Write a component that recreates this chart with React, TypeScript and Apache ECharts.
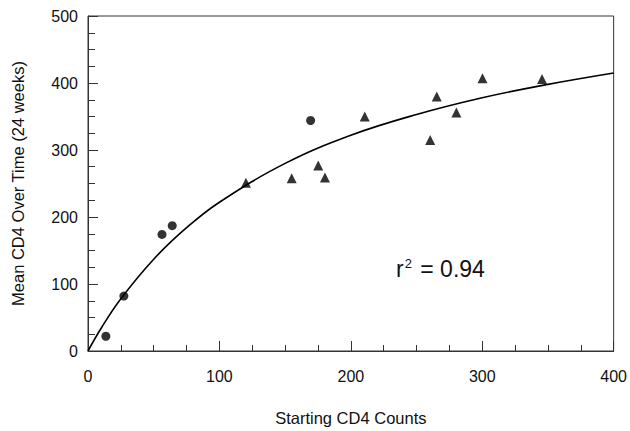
import React, { useEffect, useRef } from "react";
import * as echarts from "echarts";

// Circles (observed points)
const circleX = [13.6, 27.3, 56.3, 64.1, 169.4];
const circleY = [22, 82, 174, 187, 344];

// Triangles
const triX = [120.2, 155, 175.2, 180.3, 210.6, 260.4, 265.4, 280.3, 300.2, 345.5];
const triY = [251, 258, 277, 259, 350, 315, 380, 356, 407, 406];

// Fitted curve
const curveX = [0, 10, 25, 50, 75, 100, 150, 200, 250, 300, 350, 400];
const curveY = [0, 34, 78, 137, 184, 222, 280, 322, 353, 378, 398, 415];

const xTicks = [0, 100, 200, 300, 400];
const yTicks = [0, 100, 200, 300, 400, 500];

const annotation = "r² = 0.94";
const xName = "Starting CD4 Counts";
const yName = "Mean CD4 Over Time (24 weeks)";

export default function App() {
  const ref = useRef<HTMLDivElement>(null);
  useEffect(() => {
    if (!ref.current) return;
    const chart = echarts.init(ref.current, undefined, { renderer: "svg" });
    const font = "'Liberation Sans', Arial, Helvetica, sans-serif";
    const axisColor = "#333";
    chart.setOption({
      animation: false,
      backgroundColor: "#fff",
      grid: {
        left: 88,
        right: 15,
        top: 16,
        bottom: 75,
        show: true,
        borderColor: axisColor,
        borderWidth: 1,
        backgroundColor: "transparent",
      },
      xAxis: {
        type: "value",
        min: xTicks[0],
        max: xTicks[xTicks.length - 1],
        interval: 100,
        name: xName,
        nameLocation: "middle",
        nameGap: 58,
        nameTextStyle: { fontFamily: font, fontSize: 16.5, color: "#111" },
        axisLine: { show: true, lineStyle: { color: axisColor, width: 1 } },
        axisTick: { show: true, inside: true, length: 10, lineStyle: { color: axisColor } },
        minorTick: { show: true, splitNumber: 4, length: 6, lineStyle: { color: axisColor } },
        splitLine: { show: false },
        minorSplitLine: { show: false },
        axisLabel: { fontFamily: font, fontSize: 16, color: "#111", margin: 17 },
      },
      yAxis: {
        type: "value",
        min: yTicks[0],
        max: yTicks[yTicks.length - 1],
        interval: 100,
        name: yName,
        nameLocation: "middle",
        nameGap: 62,
        nameTextStyle: { fontFamily: font, fontSize: 16.5, color: "#111" },
        axisLine: { show: true, lineStyle: { color: axisColor, width: 1 } },
        axisTick: { show: true, inside: true, length: 10, lineStyle: { color: axisColor } },
        minorTick: { show: true, splitNumber: 4, length: 7, lineStyle: { color: axisColor } },
        splitLine: { show: false },
        minorSplitLine: { show: false },
        axisLabel: { fontFamily: font, fontSize: 16, color: "#111", margin: 10 },
      },
      series: [
        {
          type: "line",
          data: curveX.map((x, i) => [x, curveY[i]]),
          smooth: 0.4,
          showSymbol: false,
          symbol: "none",
          lineStyle: { color: "#000", width: 1.6 },
          z: 2,
        },
        {
          type: "scatter",
          data: circleX.map((x, i) => [x, circleY[i]]),
          symbol: "circle",
          symbolSize: 9,
          itemStyle: { color: "#000" },
          z: 3,
        },
        {
          type: "scatter",
          data: triX.map((x, i) => [x, triY[i]]),
          symbol: "triangle",
          symbolSize: 10,
          itemStyle: { color: "#000" },
          z: 3,
        },
      ],
      graphic: [
        {
          type: "text",
          left: 396,
          top: 257,
          style: {
            text: "{r|r}{s|2}{r| = 0.94}",
            rich: {
              r: { fontFamily: font, fontSize: 23, fill: "#111" },
              s: { fontFamily: font, fontSize: 13, fill: "#111", verticalAlign: "top", padding: [0, 2, 10, 1] },
            },
          },
        },
      ],
    });
    return () => chart.dispose();
  }, []);
  return (
    <div
      ref={ref}
      style={{ position: "fixed", left: 0, top: 0, width: 630, height: 431 }}
      aria-label={annotation}
    />
  );
}
